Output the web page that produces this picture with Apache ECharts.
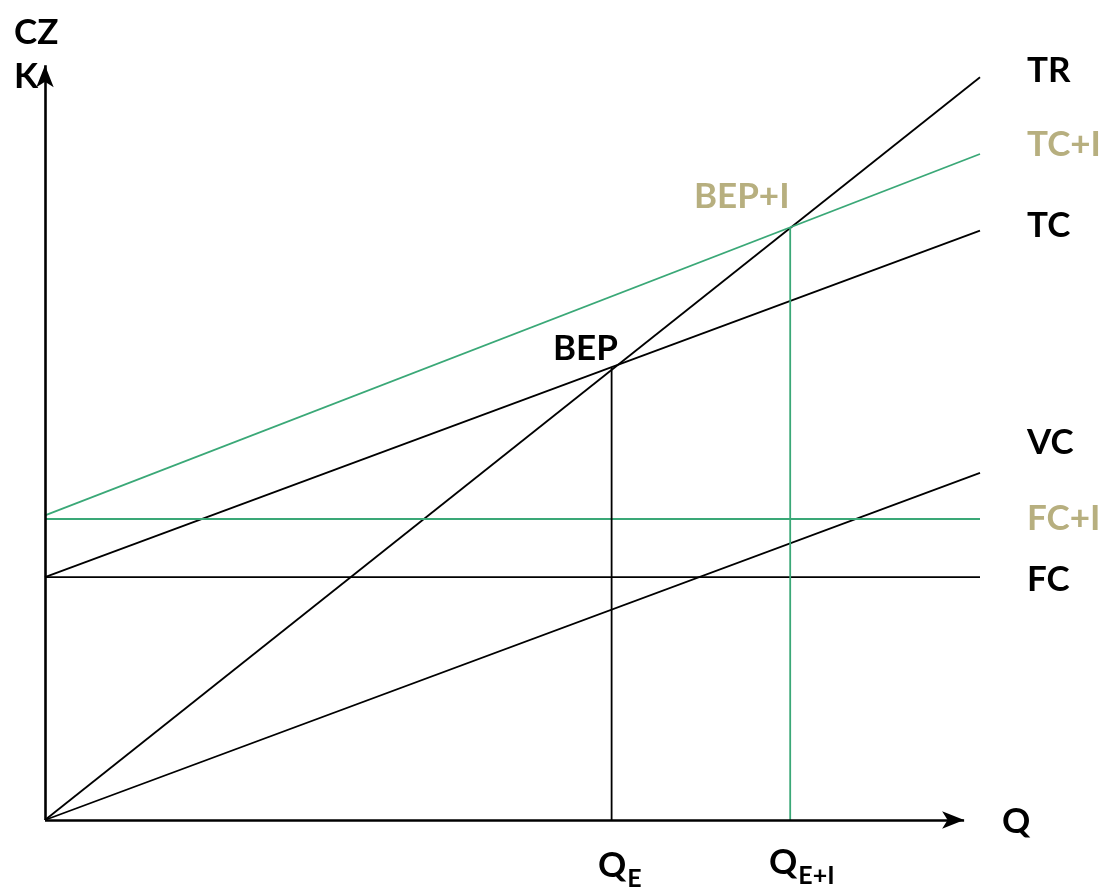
<!DOCTYPE html>
<html>
<head>
<meta charset="utf-8">
<script src="https://cdn.jsdelivr.net/npm/echarts@6/dist/echarts.min.js"></script>
<style>
html,body{margin:0;padding:0;background:#fff;}
#chart{width:1109px;height:893px;}
</style>
</head>
<body>
<div id="chart"></div>
<script>
// Quantity range for the lines
const qRange = [0, 100];
// Values at start and end of the quantity range
const trValues = [0, 99.7];
const tcValues = [32.6, 79.1];
const tcIValues = [40.9, 89.4];
const vcValues = [0, 46.6];
const fcValues = [32.6, 32.6];
const fcIValues = [40.4, 40.4];
// Break-even points [Q, value]
const bepPoint = [60.6, 60.7];
const bepIPoint = [79.7, 79.6];
// Axis arrow extents
const xAxisEnd = 98.3;
const yAxisEnd = 101.3;

const BLACK = '#000000';
const GREEN = '#3aa877';
const TAN = '#b7af7f';
const FONT = 'Lato';
const LABEL_FONT = 'bold 35px ' + FONT;

function pairs(vals) { return qRange.map((q, i) => [q, vals[i]]); }

const chart = echarts.init(document.getElementById('chart'), null, {renderer: 'canvas'});

function lineSeries(name, data, color, width) {
  return {
    name: name, type: 'line', data: data, symbol: 'none', silent: true,
    lineStyle: {color: color, width: width}, clip: false, z: 2
  };
}

function label(text, x, y, color) {
  return {type: 'text', x: x, y: y, style: {text: text, font: LABEL_FONT, fill: color, textVerticalAlign: 'middle'}};
}

function subLabel(main, sub, x, y) {
  return {type: 'text', x: x, y: y, style: {
    text: '{q|' + main + '}{s|' + sub + '}', textVerticalAlign: 'middle',
    rich: {
      q: {font: LABEL_FONT, fill: BLACK, color: BLACK},
      s: {font: 'bold 25px ' + FONT, fill: BLACK, color: BLACK, padding: [26, 0, 0, 1]}
    }
  }};
}

const option = {
  animation: false,
  backgroundColor: '#fff',
  grid: {left: 45, right: 129, top: 820 - 103 * 7.45, bottom: 73},
  xAxis: {type: 'value', min: 0, max: 100, show: false},
  yAxis: {type: 'value', min: 0, max: 103, show: false},
  series: [
    lineSeries('TR', pairs(trValues), BLACK, 1.8),
    lineSeries('TC', pairs(tcValues), BLACK, 1.8),
    lineSeries('VC', pairs(vcValues), BLACK, 1.8),
    lineSeries('FC', pairs(fcValues), BLACK, 1.8),
    lineSeries('TC+I', pairs(tcIValues), GREEN, 1.8),
    lineSeries('FC+I', pairs(fcIValues), GREEN, 1.8),
    lineSeries('QE', [[bepPoint[0], 0], bepPoint], BLACK, 1.8),
    lineSeries('QE+I', [[bepIPoint[0], 0], bepIPoint], GREEN, 1.8),
    {
      name: 'axes', type: 'line', data: [], silent: true,
      markLine: {
        silent: true,
        symbol: ['none', 'arrow'],
        symbolSize: [13, 22],
        label: {show: false},
        lineStyle: {color: BLACK, width: 2.6, type: 'solid'},
        emphasis: {disabled: true},
        data: [
          [{coord: [0, 0]}, {coord: [xAxisEnd, 0]}],
          [{coord: [0, 0]}, {coord: [0, yAxisEnd]}]
        ]
      },
      z: 3
    }
  ],
  graphic: [
    {type: 'text', left: 14, top: 15, style: {text: 'CZ', font: LABEL_FONT, fill: BLACK}},
    {type: 'text', left: 14, top: 59, style: {text: 'K', font: LABEL_FONT, fill: BLACK}},
    label('TR', 1027, 71, BLACK),
    label('TC+I', 1027, 145, TAN),
    label('TC', 1027, 226, BLACK),
    label('BEP+I', 694, 197, TAN),
    label('BEP', 553, 349, BLACK),
    label('VC', 1027, 443, BLACK),
    label('FC+I', 1027, 519, TAN),
    label('FC', 1027, 580, BLACK),
    label('Q', 1002, 822, BLACK),
    subLabel('Q', 'E', 598, 866),
    subLabel('Q', 'E+I', 769, 863)
  ]
};
chart.setOption(option);
</script>
</body>
</html>
